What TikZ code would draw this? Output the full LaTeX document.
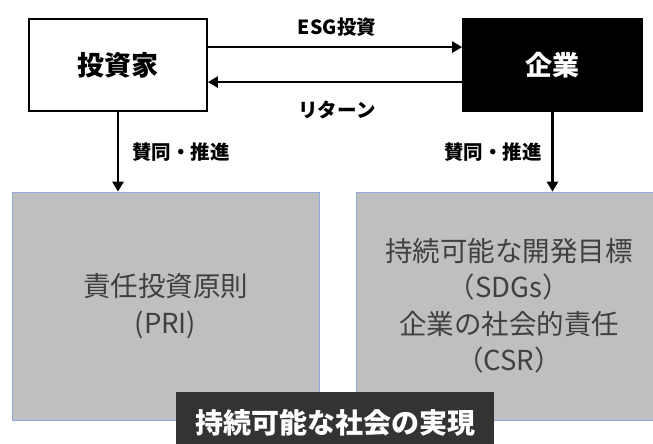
\documentclass[tikz,border=0pt]{standalone}
\usepackage{fontspec}
\setmainfont{Noto Sans CJK JP}
\usetikzlibrary{arrows.meta}
\definecolor{boxgray}{HTML}{BFBFBF}
\definecolor{boxedge}{HTML}{8FAADC}
\definecolor{txtgray}{HTML}{404040}
\definecolor{darkbar}{HTML}{333333}
\tikzset{
  actor/.style={draw=black, line width=1.8pt, minimum height=92pt, inner sep=0pt, font=\fontsize{27}{30}\selectfont\bfseries},
  panel/.style={draw=boxedge, line width=0.7pt, fill=boxgray, inner sep=0pt, minimum height=228pt},
  paneltext/.style={text=txtgray, align=center, inner sep=0pt, font=\fontsize{27.5}{36.5}\selectfont},
  flow/.style={line width=2.8pt, -{Triangle[length=10pt,width=11pt]}},
  lbl/.style={font=\fontsize{19.5}{22}\selectfont\bfseries, inner sep=0pt}
}
\begin{document}
\begin{tikzpicture}[x=1pt,y=1pt]
\useasboundingbox (0,0) rectangle (653,444);
% actors
\node[actor, fill=white, minimum width=178pt] (inv) at (118,379) {投資家};
\node[actor, fill=black, text=white, minimum width=179pt] (corp) at (552.5,379) {企業};
% panels
\node[panel, minimum width=307pt] (pri) at (165.5,138) {};
\node[panel, minimum width=306pt] (sdg) at (509,138) {};
\node[paneltext] (pritxt) at (pri.center) {責任投資原則\\(PRI)};
\node[paneltext] (sdgtxt) at (sdg.center) {持続可能な開発目標\\（SDGs）\\企業の社会的責任\\（CSR）};
% bottom bar
\node[fill=darkbar, text=white, minimum width=318pt, minimum height=62pt, inner sep=0pt, font=\fontsize{28}{30}\selectfont\bfseries] (goal) at (335,21) {持続可能な社会の実現};
% connectors
\coordinate (a1) at ([yshift=-29pt]inv.north east);
\coordinate (a2) at ([yshift=-29pt]corp.north west);
\draw[flow] (a1) -- (a2);
\node[lbl] (esg) at (337,417) {ESG投資};
\coordinate (b1) at ([yshift=-64pt]corp.north west);
\coordinate (b2) at ([yshift=-64pt]inv.north east);
\draw[flow] (b1) -- (b2);
\node[lbl] (ret) at (337,334) {リターン};
\coordinate (c1) at (inv.south);
\draw[flow] (c1) -- (c1 |- pri.north);
\node[lbl, anchor=west] (s1) at (132,292) {賛同・推進};
\coordinate (d1) at (corp.south);
\draw[flow] (d1) -- (d1 |- sdg.north);
\node[lbl, anchor=east] (s2) at (542,292) {賛同・推進};
\end{tikzpicture}
\end{document}
